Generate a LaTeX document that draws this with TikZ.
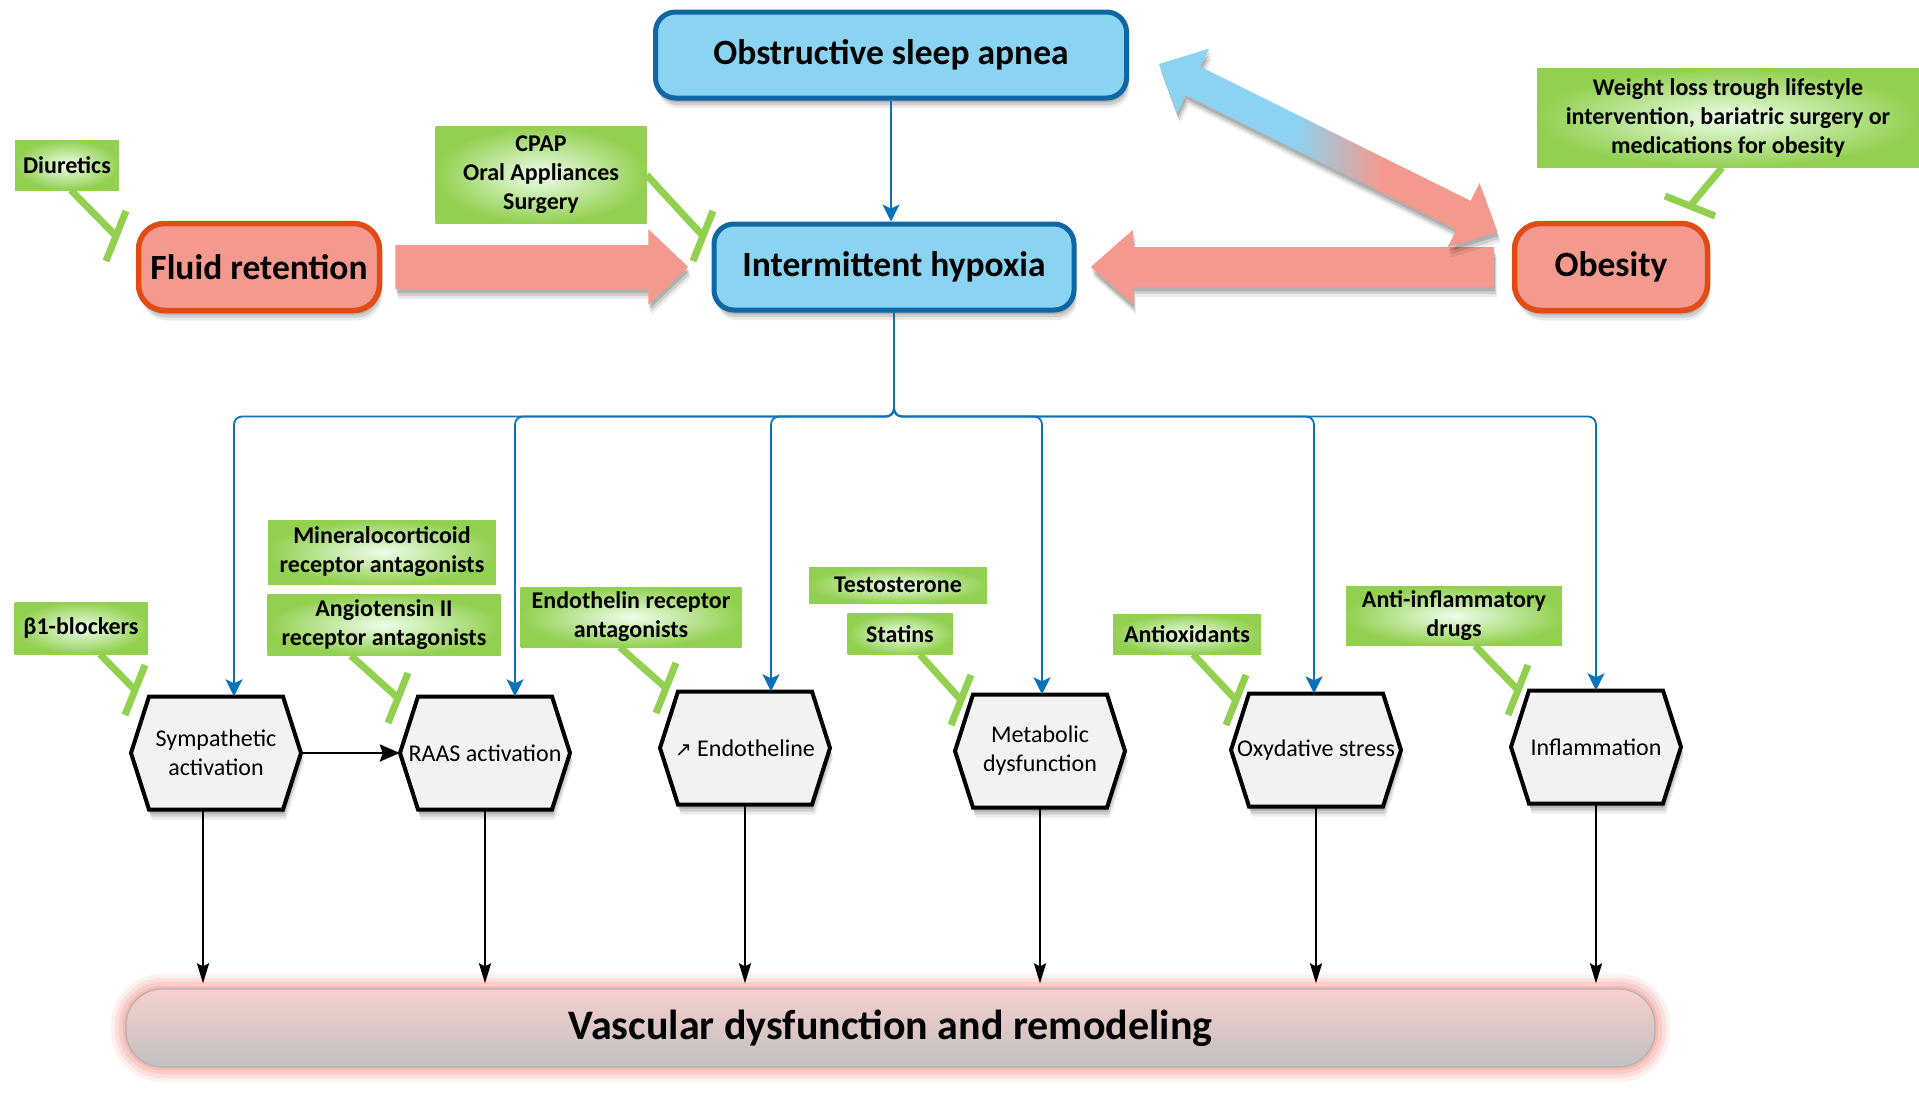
\documentclass[tikz,border=0pt]{standalone}
\usepackage{fontspec}
\setmainfont{Carlito}
\newfontfamily\symfont{DejaVu Sans}
\usetikzlibrary{arrows.meta,calc,shadows}

\definecolor{skyfill}{HTML}{8BD4F1}
\definecolor{skyborder}{HTML}{0E67A3}
\definecolor{salmon}{HTML}{F4998D}
\definecolor{redborder}{HTML}{E04C16}
\definecolor{gdark}{HTML}{92D050}
\definecolor{glight}{HTML}{EEFDEA}
\definecolor{linkblue}{HTML}{0A72BA}
\definecolor{hexfill}{HTML}{F2F2F2}
\definecolor{glowpink}{HTML}{F3A39B}
\definecolor{bartop}{HTML}{F6D0CC}
\definecolor{barbot}{HTML}{C2C0C0}

\pgfdeclarehorizontalshading{osaob}{100bp}{color(0bp)=(skyfill); color(45bp)=(skyfill); color(58bp)=(salmon); color(100bp)=(salmon)}

\tikzset{
 softshadow/.style={
   general shadow={shadow xshift=3pt,shadow yshift=-10pt,fill=black,opacity=0.08},
   general shadow={shadow xshift=2pt,shadow yshift=-7pt,fill=black,opacity=0.12},
   general shadow={shadow xshift=1pt,shadow yshift=-4pt,fill=black,opacity=0.15}},
 bluebox/.style={draw=skyborder, fill=skyfill, line width=5pt, rounded corners=20pt,
   minimum height=86pt, inner sep=0pt, font=\bfseries\fontsize{35.5}{40}\selectfont, softshadow},
 redbox/.style={draw=redborder, fill=salmon, line width=5.5pt, rounded corners=26pt,
   minimum height=87pt, inner sep=0pt, font=\bfseries\fontsize{35.5}{40}\selectfont, softshadow},
 greenbox/.style={inner color=glight, outer color=gdark, inner sep=0pt, align=center,
   font=\bfseries\fontsize{24}{29}\selectfont},
 hexshape/.style={draw=black, fill=hexfill, line width=4pt, line join=miter, softshadow},
 hextext/.style={minimum width=170pt, minimum height=113pt, inner sep=0pt, align=center,
   font=\fontsize{24}{29}\selectfont},
 bluearr/.style={draw=linkblue, line width=1.8pt, rounded corners=8pt,
   -{Stealth[length=17pt,width=17pt,inset=4pt]}},
 blackarr/.style={draw=black, line width=2.5pt, shorten >=5pt,
   -{Stealth[length=20pt,width=12pt,inset=3pt]}},
 sidearr/.style={draw=black, line width=2.5pt, -{Stealth[length=20pt,width=17pt,inset=3pt]}},
 inhib/.style={draw=gdark, line width=7pt},
 vascbox/.style={minimum width=1529pt, minimum height=78pt, rounded corners=36pt,
   top color=bartop, bottom color=barbot, draw=black!30, line width=1.2pt, inner sep=0pt,
   font=\bfseries\fontsize{42}{48}\selectfont},
}

\newcommand{\myhex}[4]{%
  \path[hexshape] ({#2-85},#3) -- ({#2-67},{#3-56.5}) -- ({#2+67},{#3-56.5}) -- ({#2+85},#3)
     -- ({#2+67},{#3+56.5}) -- ({#2-67},{#3+56.5}) -- cycle;
  \node[hextext] (#1) at (#2,#3) {#4};}

\begin{document}
\begin{tikzpicture}[x=1pt,y=-1pt]
\useasboundingbox (0,0) rectangle (1919,1100);
\fill[white] (0,0) rectangle (1919,1100);

% ---- top boxes
\node[bluebox, minimum width=471pt] (osa) at (891,55) {Obstructive sleep apnea};
\node[bluebox, minimum width=360pt] (ih) at (894,267) {Intermittent hypoxia};
\node[redbox, minimum width=241pt] (fr) at (259,267) {Fluid retention};
\node[redbox, minimum width=193pt] (ob) at (1611,267) {Obesity};

% ---- block arrows
\fill[salmon, softshadow] ($(fr.east)+(13,-22)$) -- ++(253,0) -- ++(0,-16) -- ++(40,38)
   -- ++(-40,38) -- ++(0,-16) -- ++(-253,0) -- cycle;
\fill[salmon, softshadow] ($(ob.west)+(-18,-20)$) -- ++(-361,0) -- ++(0,-17) -- ++(-42,37)
   -- ++(42,37) -- ++(0,-17) -- ++(361,0) -- cycle;
\coordinate (dstart) at ($(osa.east)+(30,9)$);
\begin{scope}[shift={(dstart)}, rotate=-26.4]
  \shade[shading=osaob, softshadow] (0,0) -- (38,-36) -- (38,-16) -- (340,-16) -- (340,-36)
     -- (378,0) -- (340,36) -- (340,16) -- (38,16) -- (38,36) -- cycle;
\end{scope}

% ---- bottom bar
\foreach \w/\o in {30/0.15, 22/0.22, 14/0.3, 6/0.45}
  \draw[glowpink, line width=\w pt, opacity=\o, rounded corners=36pt] (126,989) rectangle (1655,1067);
\node[vascbox] (vasc) at (890.5,1028) {Vascular dysfunction and remodeling};

% ---- hexagons
\myhex{sym}{216}{753}{Sympathetic\\activation}
\myhex{raas}{485}{753}{RAAS activation}
\myhex{endo}{745}{748}{{\symfont\fontsize{20}{22}\selectfont ↗} Endotheline}
\myhex{meta}{1040}{751}{Metabolic\\dysfunction}
\myhex{oxy}{1316}{750}{Oxydative stress}
\myhex{infl}{1596}{747}{Inflammation}

% ---- blue connectors
\draw[bluearr] (osa.south) -- (osa.south |- ih.north);
\coordinate (split) at ($(ih.south)+(0,104)$);
\foreach \n/\dx in {sym/18, raas/30, endo/26, meta/2, oxy/-2, infl/0}
  \draw[bluearr] (ih.south) -- (split) -| ([xshift=\dx pt]\n.north);

% ---- black connectors
\draw[sidearr] (sym.east) -- (raas.west);
\coordinate (symout) at ([xshift=-13pt]sym.south);
\draw[blackarr] (symout) -- (symout |- vasc.north);
\foreach \n in {raas, endo, meta, oxy, infl}
  \draw[blackarr] (\n.south) -- (\n.south |- vasc.north);

% ---- green treatment boxes
\node[greenbox, minimum width=104pt, minimum height=50pt] (diu) at (67,165) {Diuretics};
\node[greenbox, minimum width=211pt, minimum height=97pt] (cpap) at (541,175) {CPAP\\Oral Appliances\\Surgery};
\node[greenbox, minimum width=382pt, minimum height=99pt] (wl) at (1728,118) {Weight loss trough lifestyle\\intervention, bariatric surgery or\\medications for obesity};
\node[greenbox, minimum width=133pt, minimum height=52pt] (b1) at (81,628) {β1-blockers};
\node[greenbox, minimum width=228pt, minimum height=64pt] (mra) at (382,552) {Mineralocorticoid\\receptor antagonists};
\node[greenbox, minimum width=233pt, minimum height=61pt] (ang) at (384,625) {Angiotensin II\\receptor antagonists};
\node[greenbox, minimum width=221pt, minimum height=60pt] (era) at (631,617) {Endothelin receptor\\antagonists};
\node[greenbox, minimum width=178pt, minimum height=36pt] (tes) at (898,585) {Testosterone};
\node[greenbox, minimum width=105pt, minimum height=41pt] (sta) at (900,634) {Statins};
\node[greenbox, minimum width=148pt, minimum height=40pt] (aox) at (1187,634) {Antioxidants};
\node[greenbox, minimum width=216pt, minimum height=59pt] (ainf) at (1454,616) {Anti-inflammatory\\drugs};

% ---- inhibition connectors
\coordinate (diuE) at (116,236);
\draw[inhib] ([xshift=4pt]diu.south) -- (diuE);
\draw[inhib] ($(diuE)+(-10,25)$) -- ($(diuE)+(10,-25)$);
\coordinate (cpapE) at (703,236);
\draw[inhib] (cpap.east) -- (cpapE);
\draw[inhib] ($(cpapE)+(-10,25)$) -- ($(cpapE)+(10,-25)$);
\coordinate (wlE) at (1690,206);
\draw[inhib] ([xshift=-6pt]wl.south) -- (wlE);
\draw[inhib] ($(wlE)+(-25,-10)$) -- ($(wlE)+(25,10)$);
\coordinate (b1E) at (135,690);
\draw[inhib] ([xshift=19pt]b1.south) -- (b1E);
\draw[inhib] ($(b1E)+(-10,25)$) -- ($(b1E)+(10,-25)$);
\coordinate (angE) at (398,698);
\draw[inhib] ([xshift=-33pt]ang.south) -- (angE);
\draw[inhib] ($(angE)+(-10,25)$) -- ($(angE)+(10,-25)$);
\coordinate (eraE) at (666,688);
\draw[inhib] ([xshift=-11pt]era.south) -- (eraE);
\draw[inhib] ($(eraE)+(-10,25)$) -- ($(eraE)+(10,-25)$);
\coordinate (staE) at (961,700);
\draw[inhib] ([xshift=20pt]sta.south) -- (staE);
\draw[inhib] ($(staE)+(-10,25)$) -- ($(staE)+(10,-25)$);
\coordinate (aoxE) at (1236,700);
\draw[inhib] ([xshift=6pt]aox.south) -- (aoxE);
\draw[inhib] ($(aoxE)+(-10,25)$) -- ($(aoxE)+(10,-25)$);
\coordinate (ainfE) at (1518,690);
\draw[inhib] ([xshift=21pt]ainf.south) -- (ainfE);
\draw[inhib] ($(ainfE)+(-10,25)$) -- ($(ainfE)+(10,-25)$);
\end{tikzpicture}
\end{document}
